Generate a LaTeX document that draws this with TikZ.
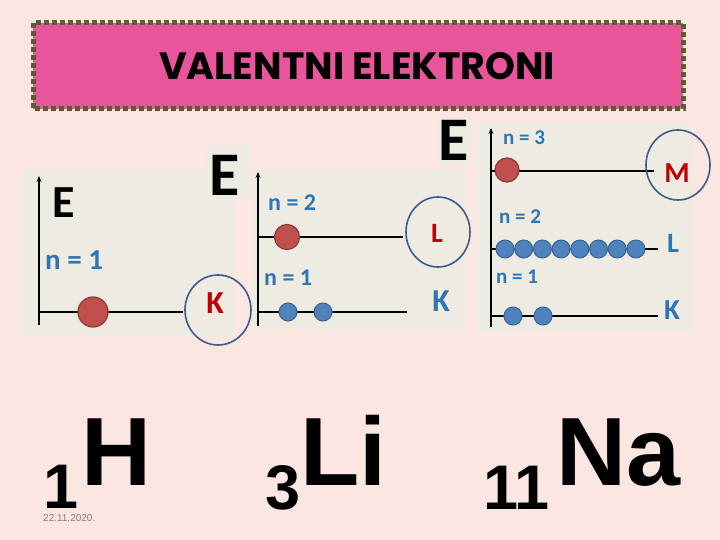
\documentclass[tikz,border=0pt]{standalone}
\usepackage{fontspec}
\setmainfont{Liberation Sans}
\newfontfamily\calib{Carlito}
\newfontfamily\titlef{Poppins}
\usetikzlibrary{arrows.meta}
\definecolor{bgpink}{HTML}{FCE6E1}
\definecolor{titlepink}{HTML}{E9559A}
\definecolor{olive}{HTML}{5B5E2F}
\definecolor{panelgray}{HTML}{EEEBE2}
\definecolor{nblue}{HTML}{2E75B6}
\definecolor{kred}{HTML}{C00000}
\definecolor{ballred}{HTML}{C0504D}
\definecolor{ballredd}{HTML}{8C3836}
\definecolor{ballblue}{HTML}{4F81BD}
\definecolor{ballblued}{HTML}{3A6392}
\definecolor{ringblue}{HTML}{3B5B8C}
\definecolor{dategray}{HTML}{8C7C7C}
\tikzset{
  panel/.style={fill=panelgray, draw=none},
  axisline/.style={line width=1.6pt, -{Stealth[length=6pt,width=5pt]}},
  level/.style={line width=1.8pt},
  redball/.style={circle, fill=ballred, draw=ballredd, line width=1.2pt, inner sep=0pt},
  blueball/.style={circle, fill=ballblue, draw=ballblued, line width=1pt, inner sep=0pt, minimum size=18pt},
  nlabel/.style={text=nblue, font=\calib\bfseries, inner sep=0pt, anchor=west},
  shelllab/.style={font=\calib\bfseries, inner sep=0pt},
  ring/.style={draw=ringblue, line width=1.6pt},
  bigE/.style={font=\calib\bfseries, inner sep=0pt, text=black},
  sym/.style={font=\bfseries, inner sep=0pt, anchor=base west}
}
\begin{document}
\begin{tikzpicture}[x=1pt,y=-1pt]
\fill[bgpink] (0,0) rectangle (720,540);
\useasboundingbox (0,0) rectangle (720,540);
% title
\fill[titlepink] (33,23) rectangle (683,109);
\draw[olive, line width=5pt, dash pattern=on 5pt off 3pt] (33,23) rectangle (683,109);
\node[font=\titlef\bfseries\fontsize{38}{38}\selectfont, inner sep=0pt] (title) at (357,66) {VALENTNI ELEKTRONI};

% panel 1 (H)
\fill[panel] (22,170) rectangle (235,337);
\fill[panel] (205,146) rectangle (250,200);
\coordinate (ax1b) at (39,325);
\coordinate (ax1t) at (39,176);
\draw[axisline] (ax1b) -- (ax1t);
\node[bigE, font=\calib\bfseries\fontsize{46}{46}\selectfont] (E1) at (64,203) {E};
\node[nlabel, font=\calib\bfseries\fontsize{29}{29}\selectfont] (n1a) at (45,260) {n = 1};
\coordinate (k1s) at (39,312);
\coordinate (k1e) at (183,312);
\draw[level] (k1s) -- (k1e);
\node[redball, minimum size=30pt] (h1) at (93,312) {};
\node[shelllab, text=kred, font=\calib\bfseries\fontsize{32}{32}\selectfont] (K1) at (215,303) {K};
\draw[ring] (218,310) ellipse [x radius=33, y radius=35];

% big E 2
\node[bigE, font=\calib\bfseries\fontsize{62}{62}\selectfont] (E2) at (225,175) {E};

% panel 2 (Li)
\fill[panel] (252,170) rectangle (465,330);
\fill[panel] (437,118) rectangle (470,165);
\coordinate (ax2b) at (258,326);
\coordinate (ax2t) at (258,172);
\draw[axisline] (ax2b) -- (ax2t);
\node[nlabel, font=\calib\bfseries\fontsize{24}{24}\selectfont] (n2b) at (268,203) {n = 2};
\coordinate (l2s) at (258,237);
\coordinate (l2e) at (403,237);
\draw[level] (l2s) -- (l2e);
\node[redball, minimum size=25pt] (li2) at (287,237) {};
\node[shelllab, text=kred, font=\calib\bfseries\fontsize{28}{28}\selectfont] (L2) at (437,233) {L};
\draw[ring] (438,232) ellipse [x radius=32, y radius=35];
\node[nlabel, font=\calib\bfseries\fontsize{24}{24}\selectfont] (n2a) at (264,278) {n = 1};
\coordinate (k2s) at (258,312);
\coordinate (k2e) at (407,312);
\draw[level] (k2s) -- (k2e);
\node[blueball] (li1a) at (288,312) {};
\node[blueball] (li1b) at (323,312) {};
\node[shelllab, text=nblue, font=\calib\bfseries\fontsize{32}{32}\selectfont] (K2) at (441,301) {K};

% big E 3
\node[bigE, font=\calib\bfseries\fontsize{62}{62}\selectfont] (E3) at (454,140) {E};

% panel 3 (Na)
\fill[panel] (478,123) rectangle (693,332);
\coordinate (ax3b) at (491,327);
\coordinate (ax3t) at (491,128);
\draw[axisline] (ax3b) -- (ax3t);
\node[nlabel, font=\calib\bfseries\fontsize{21}{21}\selectfont] (n3c) at (503,138) {n = 3};
\coordinate (m3s) at (491,171);
\coordinate (m3e) at (654,171);
\draw[level] (m3s) -- (m3e);
\node[redball, minimum size=24pt] (na3) at (507,170) {};
\node[shelllab, text=kred, font=\calib\bfseries\fontsize{29}{29}\selectfont] (M3) at (677,173) {M};
\draw[ring] (678,165) ellipse [x radius=32, y radius=35];
\node[nlabel, font=\calib\bfseries\fontsize{21}{21}\selectfont] (n3b) at (499,217) {n = 2};
\coordinate (l3s) at (491,249);
\coordinate (l3e) at (658,249);
\draw[level] (l3s) -- (l3e);
\foreach \i in {0,...,7} {
  \node[blueball] (na2\i) at ({505+\i*18.7},249) {};
}
\node[shelllab, text=nblue, font=\calib\bfseries\fontsize{28}{28}\selectfont] (L3) at (673,243) {L};
\node[nlabel, font=\calib\bfseries\fontsize{21}{21}\selectfont] (n3a) at (496,277) {n = 1};
\coordinate (k3s) at (491,316);
\coordinate (k3e) at (658,316);
\draw[level] (k3s) -- (k3e);
\node[blueball] (na1a) at (513,316) {};
\node[blueball] (na1b) at (543,316) {};
\node[shelllab, text=nblue, font=\calib\bfseries\fontsize{29}{29}\selectfont] (K3) at (672,310) {K};

% element symbols
\node[sym, font=\bfseries\fontsize{63}{63}\selectfont] (z1) at (43,508) {1};
\node[sym, font=\bfseries\fontsize{97}{97}\selectfont] (H) at (81,485) {H};
\node[sym, font=\bfseries\fontsize{63}{63}\selectfont] (z3) at (265,509) {3};
\node[sym, font=\bfseries\fontsize{97}{97}\selectfont] (Li) at (300,485) {Li};
\node[sym, font=\bfseries\fontsize{63}{63}\selectfont] (z11) at (483,509) {11};
\node[sym, font=\bfseries\fontsize{97}{97}\selectfont] (Na) at (556,485) {Na};
\node[font=\fontsize{10}{10}\selectfont, text=dategray, inner sep=0pt, anchor=north west] (date) at (43,514) {22.11.2020.};
\end{tikzpicture}
\end{document}
